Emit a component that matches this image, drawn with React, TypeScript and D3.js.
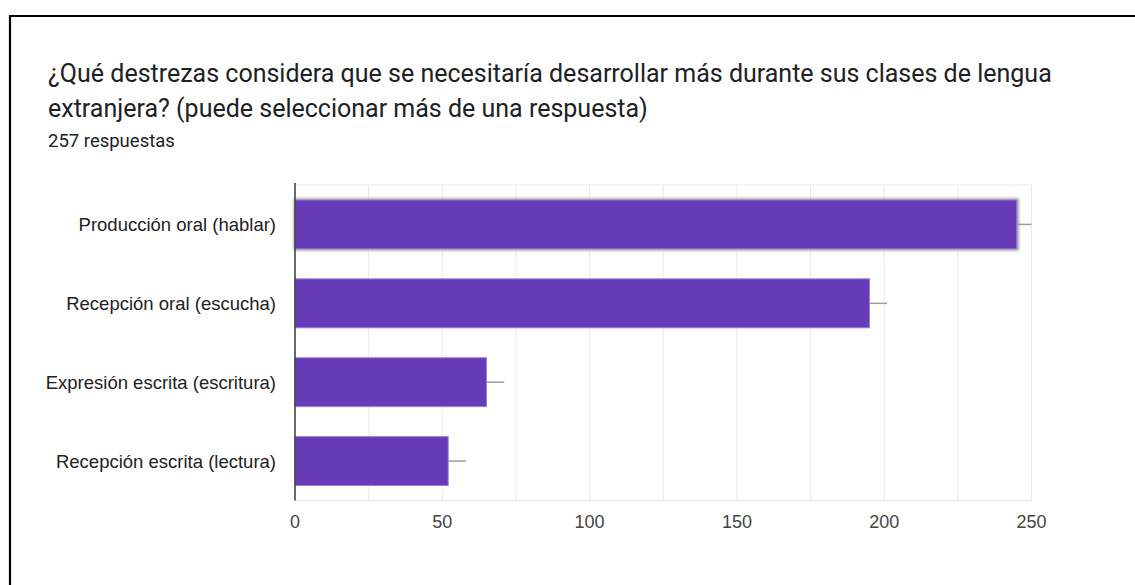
import React from "react";
import * as d3 from "d3";

const categories = [
  "Producción oral (hablar)",
  "Recepción oral (escucha)",
  "Expresión escrita (escritura)",
  "Recepción escrita (lectura)",
];
const values = [245, 195, 65, 52];
const whiskerEnds = [252, 201, 71, 58];
const xTicks = [0, 50, 100, 150, 200, 250];
const gridTicks = [25, 50, 75, 100, 125, 150, 175, 200, 225, 250];
const titleLines = [
  "¿Qué destrezas considera que se necesitaría desarrollar más durante sus clases de lengua",
  "extranjera? (puede seleccionar más de una respuesta)",
];
const subtitle = "257 respuestas";

const W = 1135;
const H = 585;
const plot = { left: 295, right: 1031.5, top: 185, bottom: 500.5 };

export default function App() {
  const x = d3.scaleLinear().domain([0, 250]).range([plot.left, plot.right]);
  const y = d3
    .scaleBand<string>()
    .domain(categories)
    .range([plot.top, plot.bottom])
    .paddingInner(0.38)
    .paddingOuter(0.19);
  const bw = y.bandwidth();

  return (
    <svg
      width={W}
      height={H}
      style={{ position: "absolute", left: 0, top: 0, background: "#fff" }}
    >
      <defs>
        <filter id="hoverShadow" x="-5%" y="-20%" width="110%" height="140%">
          <feGaussianBlur stdDeviation="1.5" />
        </filter>
      </defs>
      <rect x={0} y={0} width={W} height={H} fill="#fff" />
      <path d={`M10,${H} L10,16 L${W},16`} fill="none" stroke="#000" strokeWidth={2.2} />

      {titleLines.map((t, i) => (
        <text
          key={i}
          x={48}
          y={82 + i * 35}
          fontFamily="Roboto, 'Noto Sans', sans-serif"
          fontSize={25}
          fill="#202124"
        >
          {t}
        </text>
      ))}
      <text
        x={48}
        y={146.5}
        fontFamily="Roboto, 'Noto Sans', sans-serif"
        fontSize={18.5}
        fill="#202124"
      >
        {subtitle}
      </text>

      {/* grid */}
      {gridTicks.map((t) => (
        <line
          key={t}
          x1={x(t)}
          x2={x(t)}
          y1={plot.top}
          y2={plot.bottom}
          stroke="#ebebeb"
          strokeWidth={1}
        />
      ))}
      <line x1={plot.left} x2={plot.right} y1={plot.top} y2={plot.top} stroke="#ebebeb" strokeWidth={1.2} />
      <line x1={plot.left} x2={plot.right} y1={plot.bottom} y2={plot.bottom} stroke="#ebebeb" strokeWidth={1.5} />

      {/* bars */}
      {categories.map((c, i) => {
        const y0 = y(c)!;
        const cy = y0 + bw / 2;
        return (
          <g key={c}>
            <line
              x1={x(values[i])}
              x2={Math.min(x(whiskerEnds[i]), plot.right)}
              y1={cy}
              y2={cy}
              stroke="#9e9e9e"
              strokeWidth={1.5}
            />
            {i === 0 && (
              <rect
                x={x(0) - 1}
                y={y0 - 1.5}
                width={x(values[i]) - x(0) + 3}
                height={bw + 3}
                fill="#999"
                filter="url(#hoverShadow)"
              />
            )}
            <rect
              x={x(0)}
              y={y0}
              width={x(values[i]) - x(0)}
              height={bw}
              fill="#673ab7"
              stroke="#9a7fd6"
              strokeWidth={1}
            />
          </g>
        );
      })}

      {/* left axis */}
      <line x1={plot.left} x2={plot.left} y1={plot.top - 2} y2={plot.bottom} stroke="#444" strokeWidth={1.6} />

      {/* x tick labels */}
      {xTicks.map((t) => (
        <text
          key={t}
          x={x(t)}
          y={528}
          textAnchor="middle"
          fontFamily="'Liberation Sans', Arial, sans-serif"
          fontSize={18}
          fill="#444"
        >
          {t}
        </text>
      ))}

      {/* category labels */}
      {categories.map((c) => (
        <text
          key={c}
          x={276}
          y={y(c)! + bw / 2}
          dy="0.35em"
          textAnchor="end"
          fontFamily="'Liberation Sans', Arial, sans-serif"
          fontSize={18.5}
          fill="#222"
        >
          {c}
        </text>
      ))}
    </svg>
  );
}
